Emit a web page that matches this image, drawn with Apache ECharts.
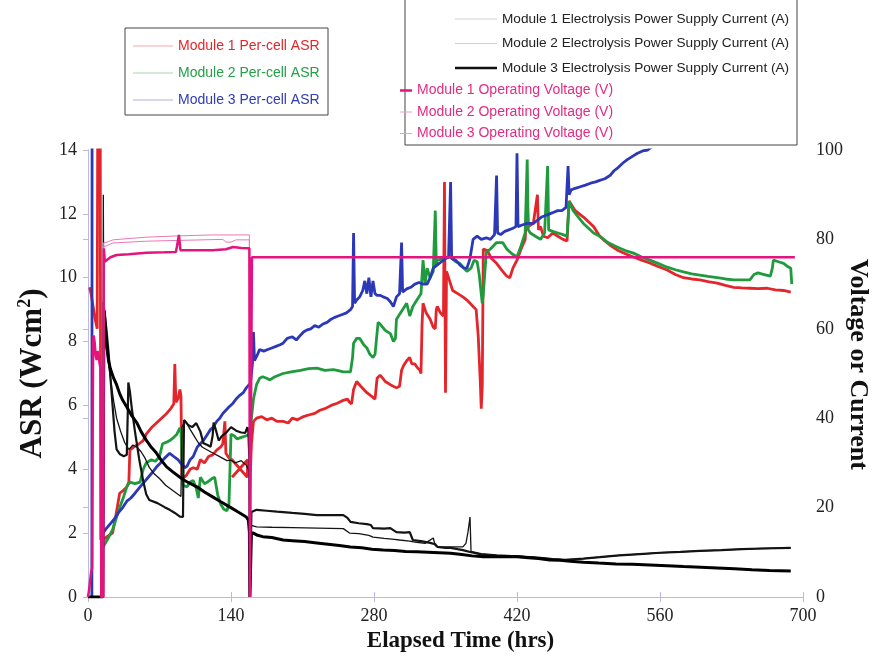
<!DOCTYPE html>
<html>
<head>
<meta charset="utf-8">
<script src="https://cdn.jsdelivr.net/npm/echarts@6/dist/echarts.min.js"></script>
<style>
  html, body { margin: 0; padding: 0; background: #fff; }
  #chart { width: 875px; height: 660px; }
</style>
</head>
<body>
<div id="chart"></div>
<script>
// Elapsed-time ticks (hours) and axis ranges
const timeTicks = [0, 140, 280, 420, 560, 700];
const asrRange = [0, 14];
const voltRange = [0, 100];

// Per-cell ASR, [hours, ASR]
const asrModule1 = [
  [1.5,9.7],[3,9.5],[5,9.1],[7,8.7],[9,8.4],[9.5,14.6],[12,14.6],[12.5,1.8],[15,1.8],[19,1.9],[24,2.0],[27,2.5],
  [31,3.25],[35,3.35],[38,3.45],[40,3.6],[41,4.6],[45,4.7],[50,4.8],[54,4.9],[57,5.1],[62,5.3],[67,5.45],[72,5.6],
  [77,5.75],[81,5.9],[84,6.05],[85,7.3],[86,6.1],[88,6.2],[90,6.5],[91,6.3],[92,3.7],[96,3.8],[100,4.0],[103,4.05],
  [107,4.0],[110,4.3],[114,4.2],[118,4.4],[122,4.45],[126,4.6],[130,4.7],[132,4.8],[134,5.5],[135,4.5],[138,4.35],
  [141,4.3],[156,3.75],[156.3,4.3],[141,3.75],[141.2,'-'],[157,3.9],[159,3.95],[160,4.8],[162,5.5],[165,5.6],[170,5.65],
  [175,5.55],[180,5.6],[185,5.5],[191,5.5],[196,5.45],[200,5.6],[205,5.55],[211,5.65],[216,5.7],[222,5.75],[227,5.85],
  [232,5.9],[238,6.0],[244,6.07],[249,6.15],[254,6.2],[256,6.1],[258,6.05],[260,6.5],[263,6.75],[267,6.6],[273,6.4],
  [279,6.25],[281,6.2],[283,6.85],[286,6.95],[291,6.75],[296,6.65],[302,6.55],[305,6.6],[307,7.1],[309,7.25],[312,7.4],
  [315,7.5],[317,7.3],[320,7.3],[322,7.2],[325,7.1],[326,7.0],[327,8.5],[328,9.2],[331,8.9],[335,8.7],[338,8.45],
  [340,8.4],[341,9.0],[342,9.1],[345,8.9],[348,8.8],[349,13.0],[350,6.4],[351,10.2],[354,9.9],[357,9.6],[362,9.5],
  [367,9.4],[371,9.3],[374,9.2],[377,9.1],[380,9.0],[382,8.2],[384,6.8],[385,5.9],[386,6.6],[387,10.9],[391,10.85],
  [395,10.6],[400,10.45],[406,10.2],[410,10.05],[413,10.0],[416,10.3],[420,10.55],[424,10.9],[428,11.2],[430,12.4],
  [431,11.6],[436,11.7],[440,12.6],[441,11.5],[443,11.6],[446,11.3],[450,11.25],[455,11.4],[460,11.3],[465,11.2],
  [469,11.15],[471,12.4],[473,12.3],[477,12.1],[481,12.0],[485,11.9],[490,11.75],[495,11.6],[501,11.3],[506,11.15],
  [512,11.0],[518,10.87],[526,10.75],[534,10.65],[542,10.55],[550,10.46],[558,10.35],[567,10.24],[575,10.1],[583,10.0],
  [591,9.96],[599,9.93],[607,9.88],[616,9.83],[624,9.76],[632,9.7],[640,9.68],[648,9.67],[656,9.66],[665,9.67],
  [673,9.62],[681,9.6],[688,9.55]
];
const asrModule2 = [
  [14.5,1.55],[19,1.8],[24,2.1],[28,2.5],[31,2.8],[35,3.15],[38,3.45],[41,3.6],[46,3.55],[51,3.6],[54,4.0],[57,4.2],
  [62,4.3],[66,4.25],[70,4.4],[73,4.8],[77,4.85],[80,4.9],[84,5.0],[87,5.1],[90,5.3],[91,5.2],[93,3.5],[97,3.45],
  [100,3.6],[103,3.65],[106,3.4],[108,3.1],[110,3.75],[114,3.55],[117,3.6],[121,3.7],[124,3.75],[127,3.2],[130,2.9],
  [133,2.75],[136,2.7],[138,2.9],[140,5.1],[143,5.05],[146,4.95],[150,5.0],[155,5.05],[158,5.1],[160,5.6],[162,6.2],
  [165,6.65],[168,6.85],[171,6.9],[175,6.85],[178,6.8],[183,6.9],[191,7.0],[199,7.05],[208,7.1],[216,7.15],[224,7.17],
  [232,7.1],[240,7.12],[244,7.1],[250,7.05],[257,7.05],[259,7.5],[260,7.95],[263,8.1],[266,8.1],[270,7.9],[273,7.8],
  [276,7.6],[279,7.5],[281,7.6],[284,8.6],[286,8.55],[291,8.35],[296,8.25],[299,8.0],[301,8.1],[302,8.7],[307,8.95],
  [312,9.2],[315,8.8],[318,9.1],[322,9.3],[326,9.5],[328,10.55],[330,9.8],[332,10.3],[335,10.0],[338,10.2],[340,12.1],
  [341,10.4],[342,10.55],[348,10.6],[355,10.65],[360,10.5],[364,10.45],[368,10.3],[371,10.2],[375,10.3],[378,10.55],
  [381,10.5],[383,10.1],[385,9.5],[386,9.2],[387,9.5],[390,10.8],[394,10.9],[400,11.1],[406,11.1],[410,10.9],
  [415,10.75],[420,10.65],[424,11.0],[428,11.4],[430,13.7],[431,11.5],[433,11.4],[438,11.3],[443,11.2],[447,11.4],
  [450,13.5],[451,11.5],[455,11.45],[460,11.4],[465,11.35],[469,11.3],[471,12.4],[475,12.1],[480,11.9],[485,11.7],
  [490,11.55],[495,11.4],[501,11.3],[509,11.1],[518,10.96],[526,10.85],[534,10.77],[542,10.65],[550,10.55],[558,10.45],
  [567,10.33],[575,10.25],[583,10.18],[591,10.12],[599,10.08],[607,10.04],[616,10.0],[624,9.96],[632,9.93],[640,9.93],
  [648,9.93],[652,10.1],[656,10.15],[662,10.1],[668,10.05],[670,10.3],[671,10.55],[676,10.5],[681,10.45],[685,10.35],
  [688,10.3],[689,9.8]
];
const asrModule3 = [
  [3.8,0],[4,14.6],[4.5,'-'],
  [14.5,2.0],[18,2.15],[22,2.3],[26,2.45],[30,2.65],[34,2.8],[38,3.0],[42,3.1],[46,3.25],[51,3.45],[55,3.6],[59,3.75],
  [63,3.9],[67,4.07],[71,4.2],[75,4.35],[80,4.5],[84,4.4],[88,4.3],[92,4.15],[95,4.05],[97,4.1],[100,4.3],[103,4.4],
  [107,4.7],[110,4.8],[113,4.9],[117,5.1],[120,5.25],[122,5.3],[126,5.5],[129,5.6],[132,5.75],[135,5.85],[138,5.95],
  [142,6.07],[145,6.2],[148,6.3],[152,6.4],[155,6.55],[159,6.7],[161,7.3],[162,8.3],[163,7.4],[166,7.6],[168,7.75],
  [172,7.7],[176,7.75],[180,7.8],[184,7.85],[188,7.9],[191,7.95],[195,8.1],[200,8.15],[204,8.05],[208,8.2],[211,8.3],
  [214,8.36],[218,8.4],[222,8.5],[226,8.45],[230,8.55],[234,8.6],[238,8.7],[241,8.75],[245,8.8],[249,8.85],[253,8.9],
  [257,9.0],[259,9.1],[260,11.4],[261,9.2],[263,9.3],[266,9.4],[269,9.6],[271,9.9],[273,9.5],[275,10.0],[277,9.4],
  [279,9.9],[281,9.5],[283,9.45],[286,9.45],[289,9.4],[293,9.35],[296,9.25],[299,9.1],[302,9.4],[305,9.5],[307,11.1],
  [308,9.55],[312,9.65],[316,9.7],[320,9.8],[324,9.85],[328,9.8],[332,9.8],[335,10.0],[338,10.3],[342,10.4],[346,10.5],
  [350,10.6],[353,10.65],[355,13.0],[356,10.6],[360,10.55],[364,10.4],[368,10.3],[371,10.3],[374,10.6],[377,11.2],
  [381,11.3],[385,11.2],[390,11.25],[394,11.2],[398,11.35],[400,13.2],[401,11.4],[404,11.35],[408,11.45],[412,11.5],
  [416,11.55],[419,11.6],[420,13.9],[421,11.6],[425,11.65],[430,11.7],[436,11.7],[440,11.8],[444,11.9],[448,11.95],
  [452,12.0],[456,12.05],[460,12.1],[464,12.1],[468,12.2],[470,13.5],[471,12.6],[473,12.75],[477,12.8],[482,12.85],
  [487,12.9],[492,12.96],[497,13.0],[501,13.05],[506,13.1],[511,13.2],[515,13.35],[519,13.45],[524,13.6],[528,13.7],
  [533,13.8],[538,13.9],[543,13.97],[548,14.0],[552,14.1],[560,14.3]
];

// Electrolysis power supply current, [hours, A]
const currentModule1 = [
  [14.5,0],[15,66],[16,64],[18,60],[20,55],[22,49],[24,43],[26,37],[28,33],[31,32],[35,31.5],[38,31.8],[39,42],
  [39.5,48],[41,46],[43,42],[46,37],[50,31],[54,26],[57,23],[60,21.7],[68,21],[75,20.1],[80,19.5],[85,18.8],[90,18],
  [93,17.9],[93.5,30],[94,39.6],[98,38.5],[102,38],[106,38.9],[110,37],[113,34.4],[117,34],[120,33.6],[122,36],
  [123,39],[125,37.5],[128,35],[131,36],[135,36.7],[140,38],[145,37.2],[150,36.8],[154,36.7],[156,38],[157,37],
  [158,30.6],[158.5,0],[159.5,0],[160,19],[165,19.5],[175,19.3],[185,19.1],[191,19.0],[200,18.8],[212,18.6],[224,18.3],
  [237,18.3],[250,18.3],[254,17.7],[257,16.8],[265,16.5],[273,16.3],[277,16.1],[279,15.4],[290,15.3],[296,15.4],
  [300,14.8],[302,14.5],[310,14.4],[315,14.5],[318,12.75],[326,12.5],[335,12.1],[340,11.8],[342,11.2],[350,11.0],
  [355,11.0],[362,10.7],[367,10.5],[375,10.0],[385,9.5],[400,9.2],[420,9.1],[440,8.8],[455,8.5],[467,8.3],[485,8.6],
  [501,8.9],[520,9.3],[540,9.6],[560,9.9],[580,10.1],[599,10.3],[620,10.5],[640,10.7],[660,10.85],[688,11.0]
];
const currentModule2 = [
  [14.5,0],[15,90],[15.5,60],[17,58],[19,54],[22,49],[25,44],[28,40],[32,37],[36,34.5],[40,33],[44,34],[48,33.5],
  [52,32.5],[56,31],[60,29],[65,27.5],[70,26.5],[76,25],[82,24],[88,23],[91,22.5],[92,38],[95,39.5],[100,37.5],
  [104,36],[108,34.5],[112,33.5],[116,33],[120,32.5],[124,32],[128,31.5],[132,31],[136,30.5],[140,30.6],[144,30],
  [150,30.5],[155,29.5],[158,28],[158.5,0],[159.5,0],[160,16],[165,15.7],[180,15.6],[200,15.5],[225,15.4],[250,15.3],
  [256,14.3],[265,14.2],[275,13.8],[279,13.4],[290,13.1],[300,12.9],[305,12.75],[315,12.5],[320,12.3],[330,12.0],
  [338,13.2],[340,11.5],[343,11.2],[355,11.2],[367,11.2],[370,12],[372,14.5],[374,17.9],[375,10.2],[385,9.7],
  [400,9.4],[420,9.2],[440,8.8],[455,8.5],[467,8.3],[485,8.6],[501,8.9],[520,9.3],[540,9.6],[560,9.9],[580,10.1],
  [599,10.3],[620,10.5],[640,10.7],[660,10.85],[688,11.0]
];
const currentModule3 = [
  [0,0],[14.5,0],[15,30],[15.5,62],[16,64],[17,60],[18,57],[20,53],[22,51],[25,49],[28,47.5],[31,45.5],[34,44],
  [38,42.5],[43,40.5],[48,38.9],[52,37],[57,35.1],[62,33.5],[67,32.2],[72,30.5],[77,29.1],[83,28],[90,26.8],[95,26],
  [100,25.4],[107,24.6],[114,23.5],[122,22.4],[130,21.3],[139,20.1],[147,19],[155,17.9],[157,17.2],[158,14.5],[158.5,0],
  [159.5,0],[160,14.3],[162,14.3],[166,13.8],[171,13.5],[180,13.3],[191,12.75],[200,12.6],[212,12.4],[224,12.1],
  [235,11.8],[246,11.5],[257,11.2],[268,11.0],[278,10.7],[289,10.5],[300,10.4],[311,10.2],[322,10.1],[333,10.0],
  [344,9.9],[355,9.8],[366,9.5],[376,9.2],[387,9.0],[398,9.0],[409,9.0],[420,9.0],[431,8.8],[441,8.6],[452,8.3],
  [462,8.2],[472,8.0],[485,7.8],[500,7.6],[517,7.4],[533,7.3],[550,7.15],[567,7.0],[583,6.8],[600,6.65],[616,6.5],
  [633,6.3],[650,6.1],[667,5.95],[688,5.8]
];

// Operating voltage, [hours, V]
const voltageModule1 = [
  [0,0],[1,1.5],[2,3.5],[3,5.5],[4,6.4],[4.5,6.4],[5,57],[5.5,58.5],[6.5,57],[7.5,54],[8.5,53],[9.5,55],[10.5,54],
  [11.5,52],[12.5,51],[13,0],[15,0],[15.5,78],[16.5,75],[18.5,75.4],[22,76],[28,76.5],[40,76.7],[57,77],[75,77.1],
  [86,77.2],[87,78.3],[88.5,78.4],[89,81],[90,81],[90.5,77.6],[100,77.6],[110,77.6],[122,77.6],[135,77.8],[142,78.3],
  [150,78.1],[158,78],[158.5,0],[160,0],[160.5,76],[200,76],[300,76],[400,76],[500,76],[600,76],[692,76]
];
const voltageModule2 = [
  [14.5,0],[15,79.2],[20,79.5],[24.5,79.9],[40,80.2],[57,80.5],[90,80.8],[122,81],[158,81],[158.5,0]
];
const voltageModule3 = [
  [14.5,0],[15,78.3],[24.5,79.2],[57,79.6],[93,79.8],[132,80],[135,79.4],[140,79.4],[145,79.9],[158,79.9],[158.5,0]
];

const axisColor = '#b9b9e2';
const serif = '"Liberation Serif", "DejaVu Serif", serif';
const sans = '"Liberation Sans", Arial, sans-serif';

// Legend swatch: a horizontal bar of the given thickness, centred in a w x h box
function swatch(w, h, t) {
  const y0 = (h - t) / 2, y1 = (h + t) / 2;
  return `path://M0,0M${w},${h}M0,${y0}L${w},${y0}L${w},${y1}L0,${y1}Z`;
}

function lineSeries(name, data, color, width, yAxisIndex) {
  return {
    name, type: 'line', data, yAxisIndex,
    symbol: 'none', showSymbol: false, sampling: null,
    lineStyle: { color, width },
    itemStyle: { color },
    emphasis: { disabled: true },
    animation: false
  };
}

function legendItem(name, color, w, t, textColor) {
  const item = { name, icon: swatch(w, 14, t), itemStyle: { color, borderWidth: 0 } };
  if (textColor) item.textStyle = { color: textColor };
  return item;
}

const chart = echarts.init(document.getElementById('chart'), null, { renderer: 'canvas' });

chart.setOption({
  backgroundColor: '#fff',
  animation: false,
  grid: { left: 88, right: 72, top: 150, bottom: 63, outerBoundsMode: 'none', containLabel: false },
  graphic: [
    { type: 'rect', z: 0, shape: { x: 125, y: 28, width: 203, height: 87 },
      style: { fill: '#fff', stroke: '#444', lineWidth: 1 } },
    { type: 'rect', z: 0, shape: { x: 405, y: -2, width: 392, height: 147 },
      style: { fill: '#fff', stroke: '#444', lineWidth: 1 } }
  ],
  legend: [
    {
      left: 133, top: 39, padding: 0, orient: 'vertical', itemWidth: 40, itemHeight: 14, itemGap: 13, itemTextGap: 6,
      selectedMode: false, textStyle: { fontFamily: sans, fontSize: 14 },
      data: [
        legendItem('Module 1 Per-cell ASR', '#f2aab0', 40, 1, '#e3262b'),
        legendItem('Module 2 Per-cell ASR', '#a9d6b2', 40, 1, '#23a048'),
        legendItem('Module 3 Per-cell ASR', '#b0b0e0', 40, 1, '#2f3cb5')
      ]
    },
    {
      left: 455, top: 12, padding: 0, orient: 'vertical', itemWidth: 42, itemHeight: 14, itemGap: 10.5, itemTextGap: 5,
      selectedMode: false, textStyle: { fontFamily: sans, fontSize: 13.6, color: '#222' },
      data: [
        legendItem('Module 1 Electrolysis Power Supply Current (A)', '#cfcfcf', 42, 1),
        legendItem('Module 2 Electrolysis Power Supply Current (A)', '#cfcfcf', 42, 1),
        legendItem('Module 3 Electrolysis Power Supply Current (A)', '#111', 42, 2.5)
      ]
    },
    {
      left: 400, top: 83.5, padding: 0, orient: 'vertical', itemWidth: 12, itemHeight: 14, itemGap: 7.5, itemTextGap: 3,
      selectedMode: false, textStyle: { fontFamily: sans, fontSize: 14, color: '#e32b84' },
      data: [
        legendItem('Module 1 Operating Voltage (V)', '#e3147f', 12, 2.5),
        legendItem('Module 2 Operating Voltage (V)', '#f0a0c6', 12, 1),
        legendItem('Module 3 Operating Voltage (V)', '#f0a0c6', 12, 1)
      ]
    }
  ],
  xAxis: [
    {
      type: 'value', min: timeTicks[0], max: timeTicks[timeTicks.length - 1], interval: 140,
      name: 'Elapsed Time (hrs)', nameLocation: 'middle', nameGap: 32,
      nameTextStyle: { fontFamily: serif, fontWeight: 'bold', fontSize: 23, color: '#111', padding: [0, 0, 0, 30] },
      axisLine: { lineStyle: { color: axisColor, width: 1 } },
      axisTick: { inside: true, length: 5, lineStyle: { color: axisColor } },
      axisLabel: { fontFamily: serif, fontSize: 18, color: '#222', margin: 10 },
      splitLine: { show: false }
    },
    {
      type: 'value', position: 'top', min: 0, max: 700, interval: 140,
      axisLine: { show: true, lineStyle: { color: axisColor, width: 1 } },
      axisTick: { show: true, inside: true, length: 5, lineStyle: { color: axisColor } },
      axisLabel: { show: false }, splitLine: { show: false }
    }
  ],
  yAxis: [
    {
      type: 'value', min: asrRange[0], max: asrRange[1], interval: 2,
      name: 'ASR (Wcm{sup|2})', nameLocation: 'middle', nameGap: 38, nameRotate: 90, nameMoveOverlap: false,
      nameTextStyle: {
        fontFamily: serif, fontWeight: 'bold', fontSize: 31, color: '#111',
        rich: { sup: { fontFamily: serif, fontWeight: 'bold', fontSize: 18, color: '#111', padding: [0, 0, 16, 0] } }
      },
      axisLine: { show: true, lineStyle: { color: axisColor, width: 1 } },
      axisTick: { show: true, inside: false, length: 5, lineStyle: { color: axisColor } },
      axisLabel: { fontFamily: serif, fontSize: 18, color: '#222', margin: 11 },
      splitLine: { show: false }
    },
    {
      type: 'value', min: voltRange[0], max: voltRange[1], interval: 20, position: 'right',
      name: 'Voltage or Current', nameLocation: 'middle', nameGap: 42, nameRotate: -90, nameMoveOverlap: false,
      nameTextStyle: { fontFamily: serif, fontWeight: 'bold', fontSize: 26, color: '#111', padding: [0, 18, 0, 0] },
      axisLine: { show: true, lineStyle: { color: axisColor, width: 1 } },
      axisTick: { show: true, inside: true, length: 5, lineStyle: { color: axisColor } },
      axisLabel: { fontFamily: serif, fontSize: 18, color: '#222', margin: 13 },
      splitLine: { show: false }
    }
  ],
  series: [
    lineSeries('Module 1 Per-cell ASR', asrModule1, '#e3262b', 2.8, 0),
    lineSeries('Module 2 Per-cell ASR', asrModule2, '#1f9a3c', 2.8, 0),
    lineSeries('Module 3 Per-cell ASR', asrModule3, '#2b38b8', 2.8, 0),
    lineSeries('Module 1 Electrolysis Power Supply Current (A)', currentModule1, '#141414', 2.2, 1),
    lineSeries('Module 2 Electrolysis Power Supply Current (A)', currentModule2, '#141414', 1.3, 1),
    lineSeries('Module 3 Electrolysis Power Supply Current (A)', currentModule3, '#000', 3, 1),
    lineSeries('Module 2 Operating Voltage (V)', voltageModule2, '#ec78b0', 1, 1),
    lineSeries('Module 3 Operating Voltage (V)', voltageModule3, '#ec78b0', 1, 1),
    lineSeries('Module 1 Operating Voltage (V)', voltageModule1, '#e3147f', 2.5, 1)
  ]
});
</script>
</body>
</html>
